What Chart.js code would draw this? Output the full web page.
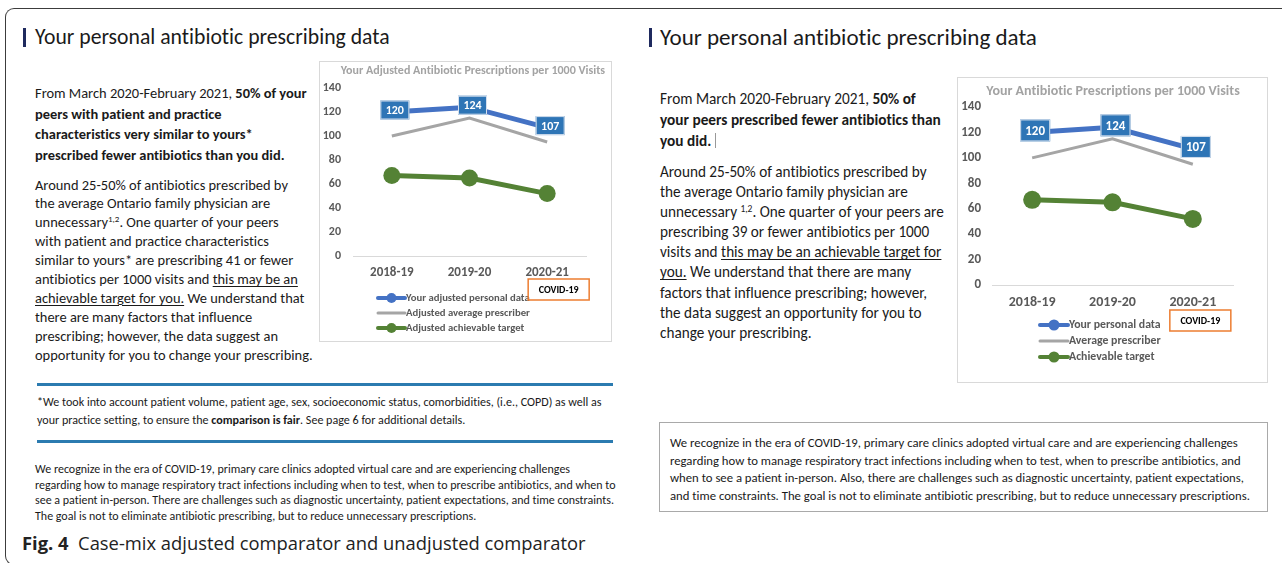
<!DOCTYPE html>
<html>
<head>
<meta charset="utf-8">
<script src="https://cdn.jsdelivr.net/npm/chart.js@4.4.1/dist/chart.umd.min.js"></script>
<style>
  html,body{margin:0;padding:0;background:#fff;}
  body{width:1282px;height:563px;position:relative;overflow:hidden;font-family:Carlito,Lato,"Liberation Sans",sans-serif;color:#1a1a1a;font-variant-ligatures:none;}
  .abs{position:absolute;white-space:nowrap;}
  .frame{position:absolute;left:5px;top:8px;width:1300px;height:557px;border:1.5px solid #3c3c3c;border-right:none;border-radius:9px 0 0 9px;box-sizing:border-box;}
  .bar{position:absolute;width:3px;height:19px;background:#1f2a5e;}
  .rule{position:absolute;height:3px;background:#2b7bb0;}
  .chartbox{position:absolute;border:1px solid #d9d9d9;box-sizing:border-box;background:#fff;}
  .chartbox canvas{display:block;}
  b{font-weight:700;}
  u{text-decoration:underline;text-underline-offset:2px;text-decoration-thickness:1px;}
  sup{font-size:0.62em;vertical-align:0.55em;line-height:0;}
  .cursor{display:inline-block;width:1px;height:0.95em;background:#999;margin-left:4px;vertical-align:-0.15em;}
  .notebox{position:absolute;border:1px solid #a9a9a9;box-sizing:border-box;}
</style>
</head>
<body>
<div class="frame"></div>

<!-- Left panel -->
<div class="bar" style="left:23px;top:28px;"></div>
<div class="abs fit" data-w="355" style="left:35px;top:25px;line-height:24px;">Your personal antibiotic prescribing data</div>

<div class="abs fit" data-w="272" style="left:35px;top:83px;line-height:20.7px;">From March 2020-February 2021, <b>50% of your<br>peers with patient and practice<br>characteristics very similar to yours*<br>prescribed fewer antibiotics than you did.</b></div>

<div class="abs fit" data-w="278" style="left:35px;top:175.5px;line-height:18.9px;">Around 25-50% of antibiotics prescribed by<br>the average Ontario family physician are<br>unnecessary<sup>1,2</sup>. One quarter of your peers<br>with patient and practice characteristics<br>similar to yours* are prescribing 41 or fewer<br>antibiotics per 1000 visits and <u>this may be an</u><br><u>achievable target for you.</u> We understand that<br>there are many factors that influence<br>prescribing; however, the data suggest an<br>opportunity for you to change your prescribing.</div>

<div class="chartbox" style="left:319px;top:61px;width:293px;height:281px;"><canvas id="leftChart" width="291" height="279"></canvas></div>

<div class="rule" style="left:37px;top:383px;width:576px;"></div>
<div class="abs fit" data-w="565" style="left:37px;top:393px;line-height:18px;">*We took into account patient volume, patient age, sex, socioeconomic status, comorbidities, (i.e., COPD) as well as<br>your practice setting, to ensure the <b>comparison is fair</b>. See page 6 for additional details.</div>
<div class="rule" style="left:37px;top:440px;width:576px;"></div>

<div class="abs fit" data-w="581" style="left:35px;top:462px;line-height:15.7px;">We recognize in the era of COVID-19, primary care clinics adopted virtual care and are experiencing challenges<br>regarding how to manage respiratory tract infections including when to test, when to prescribe antibiotics, and when to<br>see a patient in-person. There are challenges such as diagnostic uncertainty, patient expectations, and time constraints.<br>The goal is not to eliminate antibiotic prescribing, but to reduce unnecessary prescriptions.</div>

<div class="abs fit" data-w="564" style="left:22px;top:531px;line-height:24px;font-family:'Open Sans',Lato,sans-serif;color:#222;"><b>Fig. 4</b>&nbsp; Case-mix adjusted comparator and unadjusted comparator</div>

<!-- Right panel -->
<div class="bar" style="left:649px;top:28px;"></div>
<div class="abs fit" data-w="377" style="left:660px;top:25px;line-height:24px;">Your personal antibiotic prescribing data</div>

<div class="abs fit" data-w="281" style="left:660px;top:87.5px;line-height:21px;">From March 2020-February 2021, <b>50% of</b><br><b>your peers prescribed fewer antibiotics than</b><br><b>you did.</b><span class="cursor"></span></div>

<div class="abs fit" data-w="284" style="left:660px;top:162px;line-height:20.1px;">Around 25-50% of antibiotics prescribed by<br>the average Ontario family physician are<br>unnecessary <sup>1,2</sup>. One quarter of your peers are<br>prescribing 39 or fewer antibiotics per 1000<br>visits and <u>this may be an achievable target for</u><br><u>you.</u> We understand that there are many<br>factors that influence prescribing; however,<br>the data suggest an opportunity for you to<br>change your prescribing.</div>

<div class="chartbox" style="left:957px;top:77px;width:311px;height:306px;"><canvas id="rightChart" width="309" height="304"></canvas></div>

<div class="notebox" style="left:659px;top:422px;width:609px;height:90px;"></div>
<div class="abs fit" data-w="580" style="left:670px;top:434px;line-height:17.7px;">We recognize in the era of COVID-19, primary care clinics adopted virtual care and are experiencing challenges<br>regarding how to manage respiratory tract infections including when to test, when to prescribe antibiotics, and<br>when to see a patient in-person. Also, there are challenges such as diagnostic uncertainty, patient expectations,<br>and time constraints. The goal is not to eliminate antibiotic prescribing, but to reduce unnecessary prescriptions.</div>

<script>
// ---------------- Data ----------------
const categories = ['2018-19', '2019-20', '2020-21'];
const personalValues = [120, 124, 107];
const averageValues = [100, 115, 95];
const targetValues = [67, 65, 52];
const yMin = 0, yMax = 140, yStep = 20;

const leftTitle = 'Your Adjusted Antibiotic Prescriptions per 1000 Visits';
const rightTitle = 'Your Antibiotic Prescriptions per 1000 Visits';
const leftSeriesNames = ['Your adjusted personal data', 'Adjusted average prescriber', 'Adjusted achievable target'];
const rightSeriesNames = ['Your personal data', 'Average prescriber', 'Achievable target'];
const noteLabel = 'COVID-19';
const noteCategoryIndex = 2;

// ------------- text fitting -------------
function fitAll(){
  document.querySelectorAll('.fit').forEach(el => {
    el.style.fontSize = '20px';
    const w = el.getBoundingClientRect().width;
    el.style.fontSize = (20 * parseFloat(el.dataset.w) / w) + 'px';
  });
}
fitAll();
if (document.fonts && document.fonts.ready) document.fonts.ready.then(fitAll);

// ------------- plugins -------------
const FONT = 'Carlito, Lato, "Liberation Sans", sans-serif';

const chartTitlePlugin = {
  id: 'chartTitle',
  afterDraw(chart, args, o) {
    const ctx = chart.ctx;
    ctx.save();
    ctx.fillStyle = o.color;
    ctx.font = 'bold ' + o.fontSize + 'px ' + FONT;
    ctx.textAlign = 'center';
    ctx.textBaseline = 'middle';
    ctx.fillText(o.text, o.x, o.y);
    ctx.restore();
  }
};

const valueLabelPlugin = {
  id: 'valueLabels',
  afterDatasetsDraw(chart, args, o) {
    const ctx = chart.ctx;
    const meta = chart.getDatasetMeta(0);
    const ds = chart.data.datasets[0];
    ctx.save();
    meta.data.forEach((pt, i) => {
      const cx = pt.x + o.dx, cy = pt.y + o.dy;
      ctx.fillStyle = o.fill;
      ctx.fillRect(cx - o.w / 2, cy - o.h / 2, o.w, o.h);
      ctx.strokeStyle = o.stroke;
      ctx.lineWidth = 1;
      ctx.strokeRect(cx - o.w / 2 + 0.5, cy - o.h / 2 + 0.5, o.w - 1, o.h - 1);
      ctx.fillStyle = '#ffffff';
      ctx.font = 'bold ' + o.fontSize + 'px ' + FONT;
      ctx.textAlign = 'center';
      ctx.textBaseline = 'middle';
      ctx.fillText(String(ds.data[i]), cx, cy + 1);
    });
    ctx.restore();
  }
};

const excelLegendPlugin = {
  id: 'excelLegend',
  afterDraw(chart, args, o) {
    const ctx = chart.ctx;
    const base = chart.chartArea.bottom;
    ctx.save();
    chart.data.datasets.forEach((ds, i) => {
      const y = base + o.y0 + i * o.dy;
      ctx.strokeStyle = ds.borderColor;
      ctx.lineWidth = ds.legendLineWidth;
      ctx.lineCap = 'round';
      ctx.beginPath();
      ctx.moveTo(o.x0, y);
      ctx.lineTo(o.x1, y);
      ctx.stroke();
      if (ds.pointRadius > 0) {
        ctx.fillStyle = ds.pointBackgroundColor;
        ctx.beginPath();
        ctx.arc((o.x0 + o.x1) / 2, y, o.r, 0, Math.PI * 2);
        ctx.fill();
      }
      ctx.fillStyle = o.color;
      ctx.font = 'bold ' + o.fontSize + 'px ' + FONT;
      ctx.textAlign = 'left';
      ctx.textBaseline = 'middle';
      ctx.fillText(ds.label, o.x1 + 1, y + 0.5);
    });
    ctx.restore();
  }
};

const noteBoxPlugin = {
  id: 'noteBox',
  afterDraw(chart, args, o) {
    const ctx = chart.ctx;
    const xc = chart.scales.x.getPixelForValue(o.index);
    const left = xc + o.dx, top = chart.chartArea.bottom + o.dy;
    ctx.save();
    ctx.strokeStyle = '#ed7d31';
    ctx.lineWidth = 1.5;
    ctx.strokeRect(left, top, o.w, o.h);
    ctx.fillStyle = '#000';
    ctx.font = 'bold ' + o.fontSize + 'px ' + FONT;
    ctx.textAlign = 'center';
    ctx.textBaseline = 'middle';
    ctx.fillText(o.text, left + o.w / 2, top + o.h / 2 + 0.5);
    ctx.restore();
  }
};

function buildChart(id, names, title, s) {
  return new Chart(document.getElementById(id), {
    type: 'line',
    data: {
      labels: categories,
      datasets: [
        { label: names[0], data: personalValues, borderColor: '#4472c4', backgroundColor: '#4472c4',
          pointBackgroundColor: '#4472c4', pointBorderWidth: 0, borderWidth: s.thick, pointRadius: 6, legendLineWidth: s.legLine },
        { label: names[1], data: averageValues, borderColor: '#a5a5a5', backgroundColor: '#a5a5a5',
          pointBackgroundColor: '#a5a5a5', borderWidth: s.thin, pointRadius: 0, legendLineWidth: s.legThin },
        { label: names[2], data: targetValues, borderColor: '#548235', backgroundColor: '#548235',
          pointBackgroundColor: '#548235', pointBorderWidth: 0, borderWidth: s.thick, pointRadius: s.dot, legendLineWidth: s.legLine }
      ]
    },
    options: {
      responsive: false,
      animation: false,
      devicePixelRatio: 1,
      events: [],
      layout: { padding: s.padding },
      scales: {
        x: {
          offset: true,
          grid: { display: false, drawTicks: false },
          border: { display: true, color: '#d9d9d9', width: 1 },
          ticks: { color: '#595959', font: { family: FONT, size: s.xTick, weight: 'bold' }, padding: s.xPad, maxRotation: 0 },
          afterFit: sc => { sc.height = s.xHeight; }
        },
        y: {
          min: yMin, max: yMax,
          grid: { display: false, drawTicks: false },
          border: { display: false },
          ticks: { stepSize: yStep, color: '#595959', font: { family: FONT, size: s.yTick, weight: 'bold' }, padding: s.yPad },
          afterFit: sc => { sc.width = s.yWidth; }
        }
      },
      plugins: {
        legend: { display: false },
        tooltip: { enabled: false },
        title: { display: false },
        chartTitle: Object.assign({ text: title, color: '#a3a3a3' }, s.title),
        valueLabels: s.labels,
        excelLegend: s.legend,
        noteBox: Object.assign({ text: noteLabel, index: noteCategoryIndex }, s.note)
      }
    },
    plugins: [chartTitlePlugin, valueLabelPlugin, excelLegendPlugin, noteBoxPlugin]
  });
}

buildChart('leftChart', leftSeriesNames, leftTitle, {
  thick: 5, thin: 3, dot: 8.5, legLine: 4, legThin: 3,
  padding: { top: 26, left: 0, right: 25, bottom: 55 },
  xTick: 13, yTick: 12, xPad: 9, yPad: 12, xHeight: 30, yWidth: 33,
  title: { x: 153, y: 9, fontSize: 12 },
  labels: { dx: 3, dy: -2, w: 29, h: 19, fontSize: 12, fill: '#2e75b6', stroke: '#d6e0ee' },
  legend: { x0: 58, x1: 85, y0: 42, dy: 15, r: 5, fontSize: 10.7, color: '#595959' },
  note: { dx: -19, dy: 23, w: 61, h: 21, fontSize: 10 }
});

buildChart('rightChart', rightSeriesNames, rightTitle, {
  thick: 5, thin: 3, dot: 9, legLine: 4, legThin: 3,
  padding: { top: 29, left: 0, right: 34, bottom: 67 },
  xTick: 14, yTick: 13, xPad: 9, yPad: 11, xHeight: 30, yWidth: 34,
  title: { x: 155, y: 13, fontSize: 14 },
  labels: { dx: 3, dy: -2, w: 30, h: 22, fontSize: 13, fill: '#2e75b6', stroke: '#d6e0ee' },
  legend: { x0: 82, x1: 110, y0: 40, dy: 16, r: 5.5, fontSize: 11.8, color: '#595959' },
  note: { dx: -23, dy: 25, w: 61, h: 21, fontSize: 10 }
});
</script>
</body>
</html>
